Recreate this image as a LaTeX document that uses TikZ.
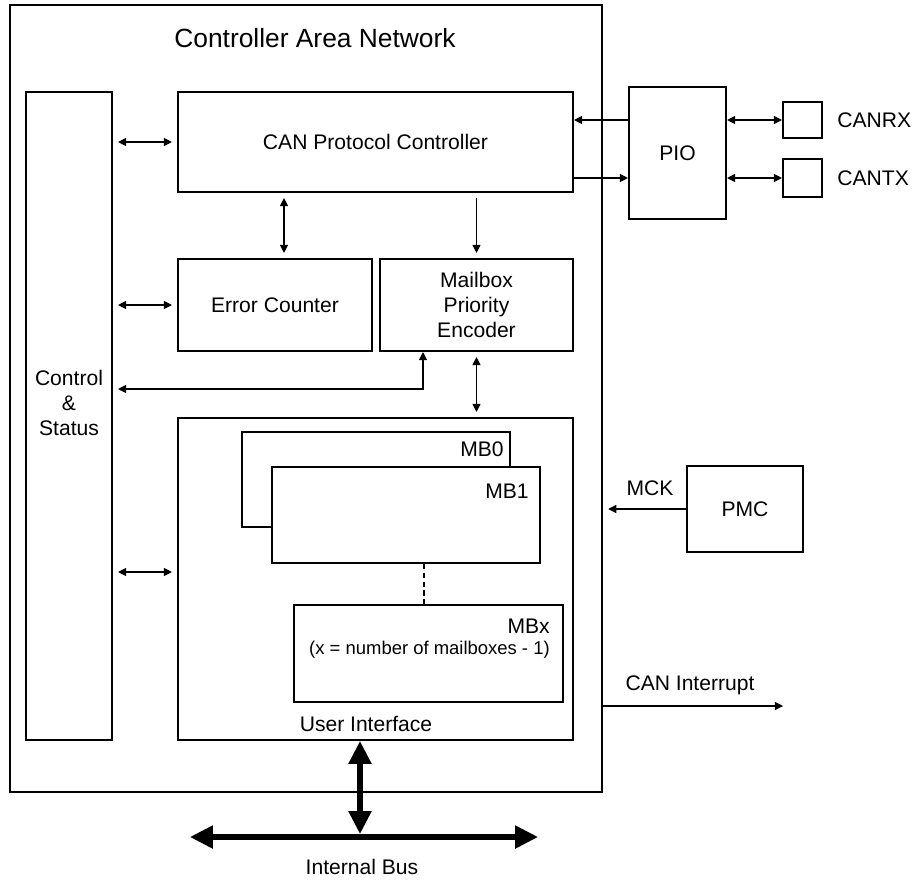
\documentclass[tikz,border=0pt]{standalone}
\usepackage{fontspec}
\setmainfont{Liberation Sans}
\usepackage{tikz}
\usetikzlibrary{arrows.meta,positioning,calc}
\newcommand{\fsbig}{\fontsize{15}{18}\selectfont}
\newcommand{\fsmid}{\fontsize{12}{14.4}\selectfont}
\newcommand{\fssml}{\fontsize{10.5}{12.6}\selectfont}
\tikzset{
  blk/.style={draw, line width=1.2pt, inner sep=0pt, font=\fsmid, align=center},
  outerb/.style={blk, line width=1.4pt},
  mbox/.style={blk, fill=white},
  txt/.style={inner sep=0pt, font=\fsmid, align=center},
  small/.style={txt, font=\fssml},
  sig/.style={-{Triangle[length=4.6pt, width=4.6pt]}, line width=0.6pt},
  bisig/.style={{Triangle[length=4.6pt, width=4.6pt]}-{Triangle[length=4.6pt, width=4.6pt]}, line width=0.6pt},
  gap/.style={shorten <=0.1cm, shorten >=0.1cm},
  bus/.style={{Triangle[length=13pt, width=12.5pt]}-{Triangle[length=13pt, width=12.5pt]}, line width=3pt},
  dotl/.style={line width=1.2pt, dash pattern=on 3pt off 2pt},
}

\begin{document}
\begin{tikzpicture}[x=1cm,y=1cm]
\useasboundingbox (0,0) rectangle (18.44,-17.6);
% CAN block
\node[outerb, minimum width=11.84cm, minimum height=15.74cm] (can) at (6.12,-7.97) {};
\node[txt, font=\fsbig] (title) at (6.30,-0.76) {Controller Area Network};
\node[blk, minimum width=1.72cm, minimum height=12.96cm] (ctl) at (1.38,-8.32) {};
\node[txt] (ctltxt) at (1.38,-8.06) {Control\\\&\\Status};
\node[blk, minimum width=7.90cm, minimum height=2.00cm] (cpc) at (7.51,-2.84) {CAN Protocol Controller};
\node[blk, minimum width=3.88cm, minimum height=1.84cm] (err) at (5.50,-6.10) {Error Counter};
\node[blk, minimum width=3.86cm, minimum height=1.84cm] (mpe) at (9.53,-6.10) {Mailbox\\Priority\\Encoder};
\node[blk, minimum width=7.90cm, minimum height=6.44cm] (ui) at (7.51,-11.58) {};
\node[txt] (uil) at ($(ui.south)+(-0.19,0.34)$) {User Interface};
% mailboxes
\node[mbox, minimum width=5.36cm, minimum height=1.90cm] (mb0) at (7.52,-9.59) {};
\node[mbox, minimum width=5.36cm, minimum height=1.92cm] (mb1) at (8.12,-10.30) {};
\node[mbox, minimum width=5.38cm, minimum height=1.94cm] (mbx) at (8.57,-13.07) {};
\node[txt, anchor=east] (mb0l) at ($(mb0.north east)+(-0.14,-0.36)$) {MB0};
\node[txt, anchor=east] (mb1l) at ($(mb1.north east)+(-0.24,-0.50)$) {MB1};
\node[txt, anchor=east] (mbxl) at ($(mbx.north east)+(-0.28,-0.44)$) {MBx};
\node[small, anchor=east] (mbxn) at ($(mbx.north east)+(-0.28,-0.92)$) {(x = number of mailboxes - 1)};
\coordinate (dt) at ($(mb1.south)+(0.36,0)$);
\draw[dotl] (dt) -- (dt |- mbx.north);
% outside blocks
\node[blk, minimum width=1.94cm, minimum height=2.64cm] (pio) at (13.55,-3.06) {PIO};
\node[blk, minimum width=0.78cm, minimum height=0.72cm] (rx) at (16.05,-2.40) {};
\node[blk, minimum width=0.78cm, minimum height=0.76cm] (tx) at (16.05,-3.56) {};
\node[txt, anchor=west] (rxl) at (16.74,-2.40) {CANRX};
\node[txt, anchor=west] (txl) at (16.74,-3.56) {CANTX};
\node[blk, minimum width=2.32cm, minimum height=1.72cm] (pmc) at (14.90,-10.18) {PMC};
\node[txt] (mckl) at (13.00,-9.76) {MCK};
\node[txt] (irql) at (13.80,-13.70) {CAN Interrupt};
\node[txt] (busl) at (7.24,-17.34) {Internal Bus};
% connectors
\coordinate (uiin) at ($(ui.west)+(0,0.14)$);
\coordinate (errin) at ($(err.north)+(0.18,0)$);
\coordinate (bend) at (8.46,-7.78);
\coordinate (mpein) at (bend |- mpe.south);
\draw[bisig, gap] (ctl.east |- cpc.west) -- (cpc.west);
\draw[bisig, gap] (ctl.east |- err.west) -- (err.west);
\draw[bisig, gap] (ctl.east |- uiin) -- (uiin);
\draw[bisig, shorten <=0.1cm] (ctl.east |- bend) -- (bend) -- (mpein);
\draw[bisig, gap] (cpc.south -| errin) -- (errin);
\draw[sig, gap] (cpc.south -| mpe.north) -- (mpe.north);
\draw[bisig, gap] (mpe.south) -- (mpe.south |- ui.north);
\draw[sig] (pio.west |- rx) -- (cpc.east |- rx);
\draw[sig] (cpc.east |- tx) -- (pio.west |- tx);
\draw[bisig] (pio.east |- rx) -- (rx.west);
\draw[bisig] (pio.east |- tx) -- (tx.west);
\coordinate (mckend) at ($(can.east |- pmc.west)+(0.1,0)$);
\draw[sig] (pmc.west) -- (mckend);
\coordinate (irqend) at (15.66,-14.12);
\draw[sig] (can.east |- irqend) -- (irqend);
% internal bus
\coordinate (busw) at (3.80,-16.74);
\coordinate (buse) at (10.76,-16.74);
\coordinate (busup) at ($(ui.south)+(-0.31,0)$);
\draw[bus] (busw) -- (buse);
\draw[bus] (busup) -- ($(busup |- busw)+(0,0.06)$);
\end{tikzpicture}
\end{document}
